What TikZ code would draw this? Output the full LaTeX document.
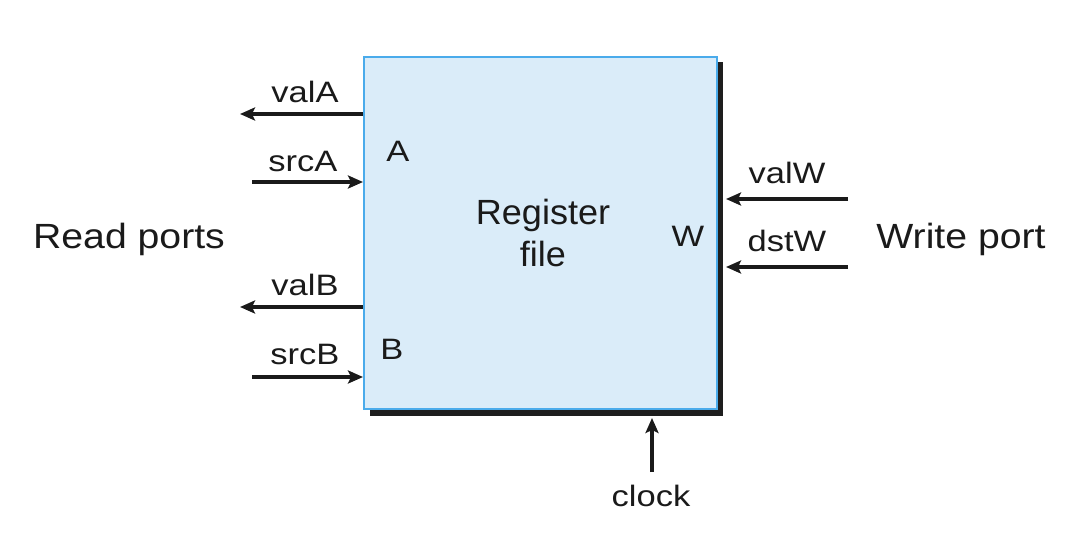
\documentclass[tikz,border=0pt]{standalone}
\usepackage{fontspec}
\setmainfont{Liberation Sans}
\newfontfamily\labfont{Liberation Sans}[FakeStretch=1.17]
\newfontfamily\bigfont{Liberation Sans}[FakeStretch=1.12]
\newfontfamily\regfont{Liberation Sans}[FakeStretch=1.03]
\usetikzlibrary{arrows.meta}
\definecolor{boxfill}{HTML}{DAECF9}
\definecolor{boxline}{HTML}{4AABEB}
\definecolor{shadowcol}{HTML}{1E1E1E}
\definecolor{ink}{HTML}{1A1A1A}
\tikzset{
  lbl/.style={font=\labfont\fontsize{29.5}{34}\selectfont, text=ink, inner sep=0pt},
  big/.style={font=\bigfont\fontsize{35}{40}\selectfont, text=ink, inner sep=0pt},
  sig/.style={line width=3.6pt, draw=ink, -{Stealth[length=15pt,width=13pt,inset=3pt]}},
}
\begin{document}
\begin{tikzpicture}[x=1pt,y=-1pt]
\useasboundingbox (0,0) rectangle (1084,536);
% shadow
\fill[shadowcol] (370,62) rectangle (723,416);
% register box
\node[draw=boxline, fill=boxfill, line width=2.4pt, minimum width=353pt, minimum height=352pt, inner sep=0pt, anchor=north west] (rf) at (363,56) {};
\node[font=\regfont\fontsize{35}{42}\selectfont, text=ink, align=center] (rflbl) at (543,233) {Register\\file};
\node[lbl] (pA) at (398,151) {A};
\node[lbl] (pB) at (392,349) {B};
\node[lbl] (pW) at (688,236) {W};
% free ends
\coordinate (valAend) at (240,114);
\coordinate (srcAstart) at (252,182);
\coordinate (valBend) at (240,307);
\coordinate (srcBstart) at (252,377);
\coordinate (valWstart) at (848,199);
\coordinate (dstWstart) at (848,267);
\coordinate (clockstart) at (652,472);
\coordinate (wedge) at (726,0);
\coordinate (cedge) at (0,418);
% arrows
\draw[sig] (rf.west |- valAend) -- (valAend);
\draw[sig] (srcAstart) -- (rf.west |- srcAstart);
\draw[sig] (rf.west |- valBend) -- (valBend);
\draw[sig] (srcBstart) -- (rf.west |- srcBstart);
\draw[sig] (valWstart) -- (wedge |- valWstart);
\draw[sig] (dstWstart) -- (wedge |- dstWstart);
\draw[sig] (clockstart) -- (clockstart |- cedge);
% labels
\node[lbl] (lvalA) at (305,92) {valA};
\node[lbl] (lsrcA) at (303,161) {srcA};
\node[lbl] (lvalB) at (305,285) {valB};
\node[lbl] (lsrcB) at (305,354) {srcB};
\node[lbl] (lvalW) at (787,173) {valW};
\node[lbl] (ldstW) at (787,241) {dstW};
\node[lbl] (lclock) at (651,496) {clock};
\node[big] (lread) at (129,239) {Read ports};
\node[big] (lwrite) at (961,239) {Write port};
\end{tikzpicture}
\end{document}
